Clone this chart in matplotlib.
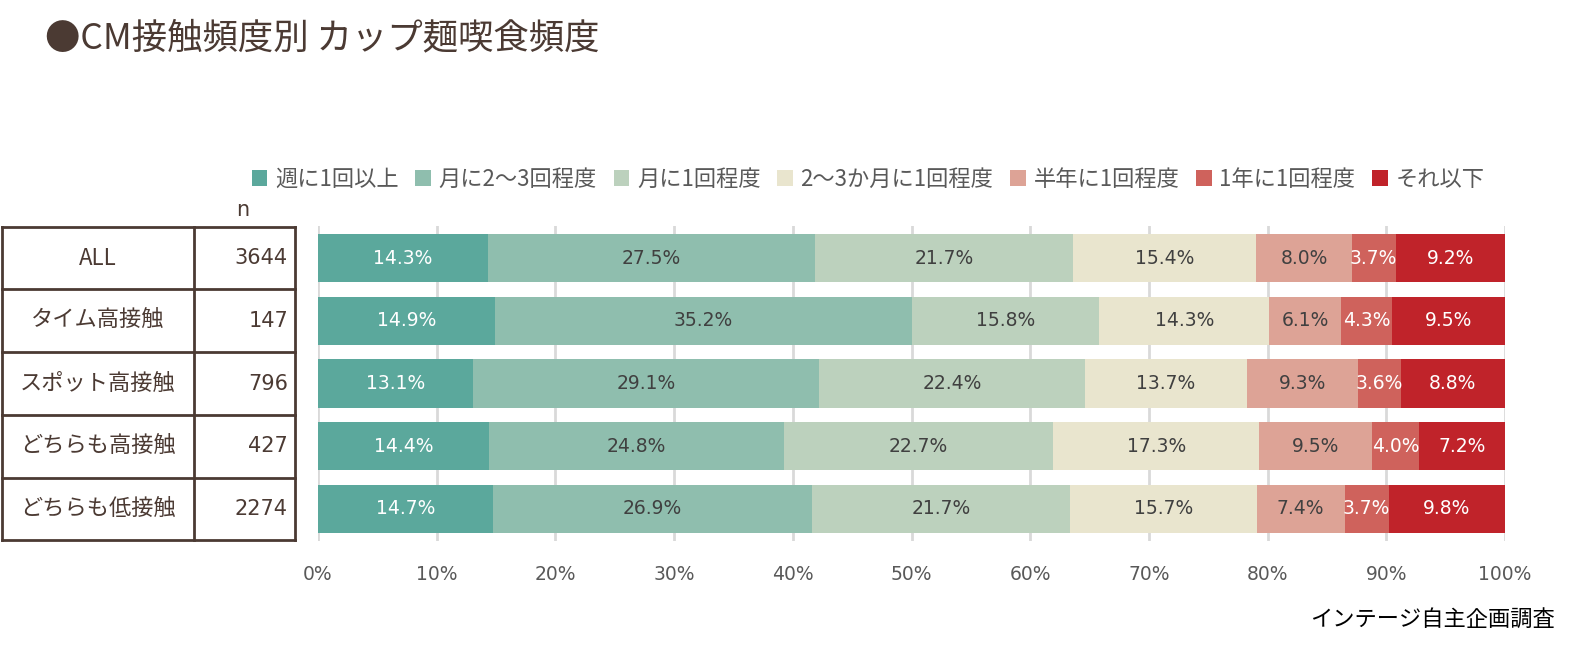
import matplotlib
matplotlib.use("Agg")
import matplotlib.pyplot as plt
import matplotlib.transforms as mtransforms
from matplotlib.patches import Patch
import numpy as np

plt.rcParams['font.family'] = ['Noto Sans CJK JP', 'DejaVu Sans']

categories = ["ALL", "タイム高接触", "スポット高接触", "どちらも高接触", "どちらも低接触"]
n_values = ["3644", "147", "796", "427", "2274"]
series_names = ["週に1回以上", "月に2～3回程度", "月に1回程度", "2～3か月に1回程度",
                "半年に1回程度", "1年に1回程度", "それ以下"]
s_weekly = [14.3, 14.9, 13.1, 14.4, 14.7]
s_month23 = [27.5, 35.2, 29.1, 24.8, 26.9]
s_month1 = [21.7, 15.8, 22.4, 22.7, 21.7]
s_2to3months = [15.4, 14.3, 13.7, 17.3, 15.7]
s_halfyear = [8.0, 6.1, 9.3, 9.5, 7.4]
s_year = [3.7, 4.3, 3.6, 4.0, 3.7]
s_less = [9.2, 9.5, 8.8, 7.2, 9.8]
xticks = [0, 10, 20, 30, 40, 50, 60, 70, 80, 90, 100]

colors = ["#5BA89C", "#8FBEAE", "#BCD1BD", "#E9E5CE", "#DDA396", "#CF625C", "#C0232A"]
label_colors = ["white", "#404040", "#404040", "#404040", "#404040", "white", "white"]
brown = "#4B3A33"

series = [s_weekly, s_month23, s_month1, s_2to3months, s_halfyear, s_year, s_less]
data = np.array(series, dtype=float)
totals = data.sum(axis=0)
norm = data / totals * 100

W, H = 1575, 651
fig = plt.figure(figsize=(W / 100, H / 100), dpi=100)

ax_left, ax_right = 318 / W, 1505 / W
ax_top, ax_bot = 1 - 226 / H, 1 - 541 / H
ax = fig.add_axes([ax_left, ax_bot, ax_right - ax_left, ax_top - ax_bot])

y = np.arange(len(categories))
left = np.zeros(len(categories))
for i, (vals, raw) in enumerate(zip(norm, data)):
    ax.barh(y, vals, left=left, height=0.765, color=colors[i], zorder=3)
    for j in range(len(categories)):
        ax.text(left[j] + vals[j] / 2, y[j], f"{raw[j]:.1f}%", ha='center', va='center',
                color=label_colors[i], fontsize=13.5, family=['DejaVu Sans'], zorder=4)
    left += vals

ax.set_xlim(0, 100)
ax.set_ylim(4.51, -0.51)
ax.set_xticks(xticks)
ax.set_xticklabels([f"{t}%" for t in xticks], fontsize=13.5, color="#595959",
                   family=['DejaVu Sans'])
ax.tick_params(axis='x', length=0, pad=17)
ax.set_yticks([])
for s in ax.spines.values():
    s.set_visible(False)
ax.grid(axis='x', color="#D9D9D9", linewidth=2, zorder=0)
ax.set_axisbelow(True)

# Table on the left
trans = mtransforms.blended_transform_factory(fig.transFigure, ax.transData)
x0, x1, x2 = 2 / W, 194 / W, 295 / W
nrows = len(categories)
for k in range(nrows + 1):
    yy = k - 0.5
    ax.plot([x0, x2], [yy, yy], transform=trans, color=brown, lw=2, clip_on=False)
for xx in (x0, x1, x2):
    ax.plot([xx, xx], [-0.5, nrows - 0.5], transform=trans, color=brown, lw=2, clip_on=False)
for j, (c, n) in enumerate(zip(categories, n_values)):
    ax.text(98 / W, j, c, transform=trans, ha='center', va='center', fontsize=16, color=brown)
    ax.text(288 / W, j, n, transform=trans, ha='right', va='center', fontsize=15,
            color=brown, family=['DejaVu Sans'])
fig.text(243 / W, 1 - 210 / H, "n", ha='center', va='center', fontsize=15, color=brown,
         family=['DejaVu Sans'])

# Title
fig.text(45 / W, 1 - 38 / H, "●CM接触頻度別 カップ麺喫食頻度", ha='left', va='center',
         fontsize=25.5, color=brown)

# Legend
handles = [Patch(facecolor=c, edgecolor='none') for c in colors]
fig.legend(handles, series_names, loc='center', bbox_to_anchor=(868 / W, 1 - 179 / H),
           ncol=7, frameon=False, fontsize=16, handlelength=0.7, handleheight=0.7,
           handletextpad=0.35, columnspacing=0.75, labelcolor="#595959")

# Source
fig.text(1555 / W, 1 - 619 / H, "インテージ自主企画調査", ha='right', va='center',
         fontsize=16, color="black")

fig.savefig("out.png", dpi=100)
